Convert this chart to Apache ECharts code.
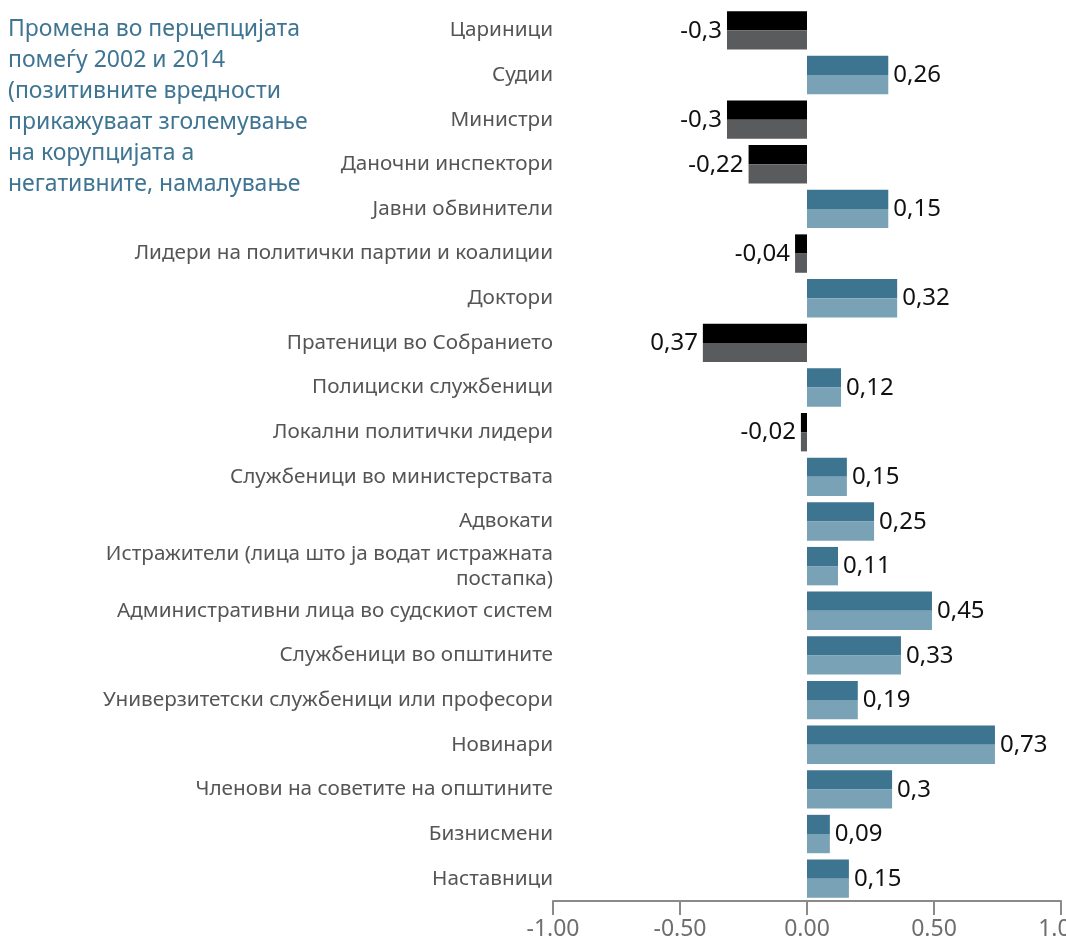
<!DOCTYPE html>
<html lang="mk">
<head>
    <meta charset="UTF-8">
    <title>Промена во перцепцијата</title>
    <script src="https://cdn.jsdelivr.net/npm/echarts@6/dist/echarts.min.js"></script>
    <style>
        html, body { margin: 0; padding: 0; background: #fff; }
        #box { width: 1066px; height: 943px; }
    </style>
</head>
<body>
    <div id="box"></div>
<script>
    // категории (одозгора надолу)
    const categories = [
        "Цариници", "Судии", "Министри", "Даночни инспектори", "Јавни обвинители",
        "Лидери на политички партии и коалиции", "Доктори", "Пратеници во Собранието",
        "Полициски службеници", "Локални политички лидери", "Службеници во министерствата",
        "Адвокати", "Истражители (лица што ја водат истражната\nпостапка)",
        "Административни лица во судскиот систем", "Службеници во општините",
        "Универзитетски службеници или професори", "Новинари",
        "Членови на советите на општините", "Бизнисмени", "Наставници"
    ];
    // должина на лентите (прочитано од сликата)
    const barValues = [
        -0.315, 0.32, -0.315, -0.23, 0.32,
        -0.047, 0.355, -0.41, 0.134, -0.024,
        0.157, 0.264, 0.122, 0.492, 0.37,
        0.2, 0.74, 0.335, 0.09, 0.165
    ];
    // натписите покрај лентите
    const barLabels = [
        "-0,3", "0,26", "-0,3", "-0,22", "0,15",
        "-0,04", "0,32", "0,37", "0,12", "-0,02",
        "0,15", "0,25", "0,11", "0,45", "0,33",
        "0,19", "0,73", "0,3", "0,09", "0,15"
    ];

    const titleText = "Промена во перцепцијата\nпомеѓу 2002 и 2014\n(позитивните вредности\nприкажуваат зголемување\nна корупцијата а\nнегативните, намалување";

    const FONT = "Noto Sans";

    function seriesData(top) {
        return barValues.map((v, i) => ({
            value: v,
            itemStyle: {
                color: v < 0 ? (top ? "#000000" : "#5a5b5d") : (top ? "#3d7591" : "#79a2b6")
            },
            label: top ? {
                show: true,
                position: v < 0 ? "left" : "right",
                formatter: barLabels[i]
            } : { show: false }
        }));
    }

    var myBar = echarts.init(document.getElementById('box'));
    var option = {
        animation: false,
        textStyle: { fontFamily: FONT },
        title: {
            text: titleText,
            left: 3,
            top: 9,
            textStyle: {
                fontFamily: FONT,
                fontSize: 23,
                fontWeight: "normal",
                color: "#3f7593",
                lineHeight: 31
            }
        },
        grid: { left: 553, right: 5, top: 8, bottom: 42, containLabel: false, outerBoundsMode: "none" },
        xAxis: {
            type: "value",
            min: -1,
            max: 1,
            interval: 0.5,
            position: "bottom",
            splitLine: { show: false },
            axisLine: { show: true, lineStyle: { color: "#8a8a8a", width: 2 } },
            axisTick: { show: true, length: 14, lineStyle: { color: "#8a8a8a", width: 2 } },
            axisLabel: {
                fontSize: 23,
                color: "#6e6e6e",
                margin: 17,
                formatter: v => v.toFixed(2)
            }
        },
        yAxis: {
            type: "category",
            inverse: true,
            data: categories,
            axisLine: { show: false },
            axisTick: { show: false },
            axisLabel: {
                fontSize: 20.7,
                color: "#555555",
                margin: 0,
                lineHeight: 25,
                interval: 0
            }
        },
        series: [
            {
                type: "bar",
                data: seriesData(true),
                barGap: "0%",
                barCategoryGap: "14%",
                label: {
                    fontSize: 24,
                    color: "#111111",
                    distance: 5,
                    offset: [0, 10]
                }
            },
            {
                type: "bar",
                data: seriesData(false),
                barGap: "0%",
                barCategoryGap: "14%"
            }
        ]
    };
    myBar.setOption(option);
</script>
</body>
</html>
